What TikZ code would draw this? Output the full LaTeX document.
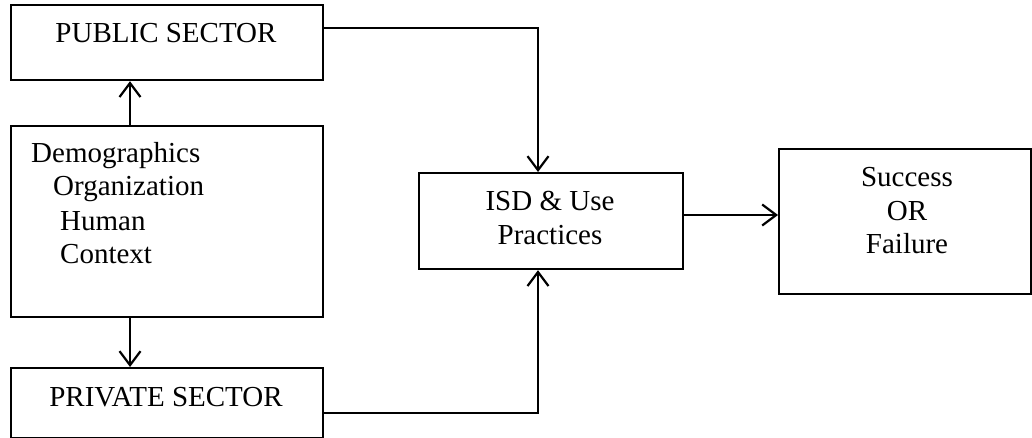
\documentclass[tikz,border=0pt]{standalone}
\usepackage{fontspec}
\setmainfont{Liberation Serif}
\usetikzlibrary{arrows.meta}
\begin{document}
\begin{tikzpicture}[x=1pt,y=-1pt,
  box/.style={draw,line width=2.2pt,inner sep=0pt,anchor=north west},
  txt/.style={inner sep=0pt,font=\fontsize{29pt}{33pt}\selectfont},
  arr/.style={line width=2.2pt,-{Straight Barb[length=14pt,width=21pt]}}]
\useasboundingbox (0,0) rectangle (1032,438);
% boxes
\node[box,minimum width=312pt,minimum height=75pt] (pub) at (10,4) {};
\node[box,minimum width=312pt,minimum height=191pt] (dem) at (10,125) {};
\node[box,minimum width=312pt,minimum height=70pt] (priv) at (10,367) {};
\node[box,minimum width=264pt,minimum height=96pt] (isd) at (418,172) {};
\node[box,minimum width=252pt,minimum height=145pt] (succ) at (778,148) {};
% texts
\node[txt,anchor=base] (pubt) at (166,43) {PUBLIC SECTOR};
\node[txt,anchor=base west] (d1) at (31,163) {Demographics};
\node[txt,anchor=base west] (d2) at (53,196) {Organization};
\node[txt,anchor=base west] (d3) at (60,230) {Human};
\node[txt,anchor=base west] (d4) at (60,263) {Context};
\node[txt,anchor=base] (privt) at (166,406) {PRIVATE SECTOR};
\node[txt,anchor=base] (i1) at (550,211) {ISD \& Use};
\node[txt,anchor=base] (i2) at (550,244) {Practices};
\node[txt,anchor=base] (s1) at (907,187) {Success};
\node[txt,anchor=base] (s2) at (907,221) {OR};
\node[txt,anchor=base] (s3) at (907,253) {Failure};
% helper coordinates
\coordinate (a1) at (130,0);
\coordinate (c1) at (538,28);
\coordinate (c2) at (538,413);
\coordinate (c3) at (0,215);
% connectors
\draw[arr] (dem.north -| a1) -- (pub.south -| a1);
\draw[arr] (dem.south -| a1) -- (priv.north -| a1);
\draw[arr] (pub.east |- c1) -| (isd.north -| c1);
\draw[arr] (priv.east |- c2) -| (isd.south -| c2);
\draw[arr] (isd.east |- c3) -- (succ.west |- c3);
\end{tikzpicture}
\end{document}
